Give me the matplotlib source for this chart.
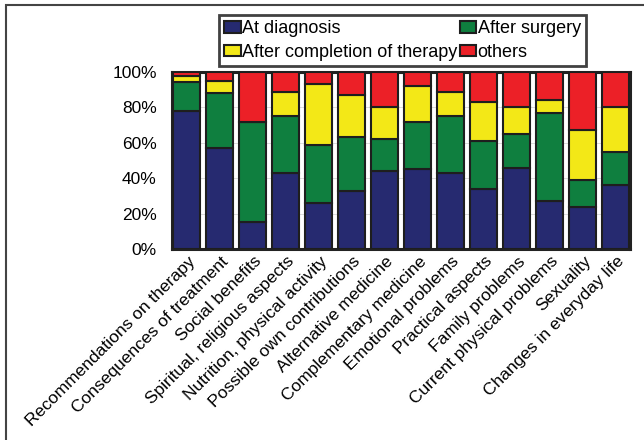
import matplotlib
matplotlib.use("Agg")
import matplotlib.pyplot as plt
import matplotlib.transforms as mtransforms
import numpy as np
from matplotlib.patches import Rectangle

topics = [
    "Recommendations on therapy", "Consequences of treatment", "Social benefits",
    "Spiritual, religious aspects", "Nutrition, physical activity",
    "Possible own contributions", "Alternative medicine", "Complementary medicine",
    "Emotional problems", "Practical aspects", "Family problems",
    "Current physical problems", "Sexuality", "Changes in everyday life",
]
at_diagnosis = [78, 57, 15, 43, 26, 33, 44, 45, 43, 34, 46, 27, 24, 36]
after_surgery = [16.5, 31, 57, 32, 33, 30, 18, 27, 32, 27, 19, 50, 15, 19]
after_therapy = [3, 7, 0, 13.5, 34, 24, 18, 20, 13.5, 22, 15, 7, 28, 25]
others = [2.5, 5, 28, 11.5, 7, 13, 20, 8, 11.5, 17, 20, 16, 33, 20]

series = [
    ("At diagnosis", at_diagnosis, "#262a70"),
    ("After surgery", after_surgery, "#0f7f3f"),
    ("After completion of therapy", after_therapy, "#f3e817"),
    ("others", others, "#ec2027"),
]

plt.rcParams["font.family"] = ["Liberation Sans", "DejaVu Sans"]

fig = plt.figure(figsize=(6.44, 4.40), dpi=100)
ax = fig.add_axes([172 / 644, 1 - 249 / 440, 458 / 644, 177 / 440])

x = np.arange(len(topics))
w = 0.8
bottom = np.zeros(len(topics))
handles = {}
for name, vals, col in series:
    vals = np.array(vals, dtype=float)
    b = ax.bar(x, vals, w, bottom=bottom, color=col, edgecolor="#1e1e1e",
               linewidth=1.5, label=name, zorder=3)
    handles[name] = b
    bottom += vals

ax.set_xlim(-w / 2 - 0.04, len(topics) - 1 + w / 2 + 0.04)
ax.set_ylim(0, 100)
ax.set_yticks(range(0, 101, 20))
ax.set_yticklabels([f"{v}%" for v in range(0, 101, 20)], fontsize=12.5)
ax.tick_params(axis="y", length=0, pad=11)
ax.tick_params(axis="x", length=0, pad=2)
ax.set_xticks(x)
ax.set_xticklabels(topics, rotation=45, ha="right", va="top",
                   rotation_mode="anchor", fontsize=12.5)
shift = mtransforms.ScaledTranslation(1 / 100, -2 / 100, fig.dpi_scale_trans)
for lbl in ax.get_xticklabels():
    lbl.set_transform(lbl.get_transform() + shift)
ax.yaxis.grid(True, color="#dcdcdc", linewidth=0.7, zorder=0)
for s in ax.spines.values():
    s.set_linewidth(2.2)
    s.set_color("#222222")

order = ["At diagnosis", "After completion of therapy", "After surgery", "others"]
leg = fig.legend([handles[k] for k in order], order, ncol=2, loc="upper left",
                 bbox_to_anchor=(219 / 644, 1 - 15 / 440), fontsize=13,
                 frameon=True, fancybox=False, borderpad=0.3,
                 handlelength=0.9, handleheight=0.6, handletextpad=0.1,
                 columnspacing=0.1, labelspacing=0.35, borderaxespad=0)
leg.get_frame().set_edgecolor("#111111")
leg.get_frame().set_linewidth(2)

# frame around the whole figure (top and left edges)
fig.patches.append(Rectangle((6 / 644, -0.1), 1.2, 1 - 5 / 440 + 0.1,
                             transform=fig.transFigure, fill=False,
                             edgecolor="#444444", linewidth=1.5))

fig.savefig("out.png", dpi=100)
